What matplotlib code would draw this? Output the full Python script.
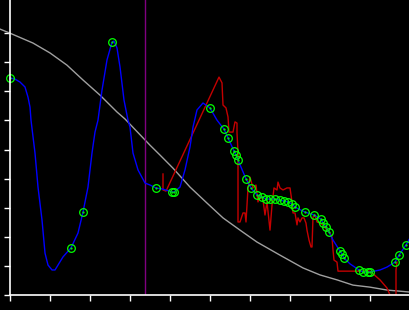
import numpy as np
import matplotlib
matplotlib.use("Agg")
import matplotlib.pyplot as plt

# --- data ---
# grey smooth envelope
env_x = [-0.25, 0.0, 0.575, 1.0, 1.425, 1.825, 2.25, 2.675, 2.875, 3.5, 3.75, 4.075,
         4.5, 4.925, 5.325, 5.75, 6.175, 6.75, 7.325, 7.75, 8.175, 8.575, 9.0, 9.425, 10.0]
env_y = [9.14, 9.00, 8.66, 8.32, 7.90, 7.39, 6.87, 6.29, 6.05, 5.15, 4.81, 4.36,
         3.71, 3.16, 2.65, 2.23, 1.82, 1.37, 0.93, 0.69, 0.52, 0.34, 0.27, 0.17, 0.10]

# blue fitted curve
fit_x = [0.0, 0.125, 0.25, 0.375, 0.45, 0.5, 0.525, 0.625, 0.7, 0.8, 0.875, 0.95, 1.05, 1.125,
         1.325, 1.525, 1.7, 1.825, 1.95, 2.05, 2.125, 2.2, 2.3, 2.425, 2.55, 2.6, 2.675, 2.75,
         2.85, 2.95, 3.0, 3.075, 3.2, 3.375, 3.5, 3.65, 3.825, 4.05, 4.1, 4.25, 4.375, 4.5,
         4.575, 4.675, 4.825, 5.0, 5.175, 5.35, 5.45, 5.6, 5.65, 5.7, 5.9, 6.025, 6.175, 6.3,
         6.4, 6.5, 6.625, 6.75, 6.85, 6.95, 7.05, 7.125, 7.375, 7.6, 7.775, 7.825, 7.9, 7.975,
         8.075, 8.25, 8.3, 8.35, 8.5, 8.725, 8.825, 8.95, 9.0, 9.25, 9.425, 9.625, 9.725, 9.9, 10.0]
fit_y = [7.46, 7.42, 7.32, 7.15, 6.80, 6.46, 6.01, 4.88, 3.71, 2.58, 1.44, 1.03, 0.86, 0.86,
         1.31, 1.62, 2.13, 2.85, 3.71, 4.88, 5.60, 6.01, 7.04, 8.08, 8.69, 8.73, 8.49, 7.84,
         6.70, 6.01, 5.77, 4.88, 4.30, 3.85, 3.78, 3.68, 3.64, 3.54, 3.54, 3.71, 4.30, 5.09,
         5.77, 6.36, 6.60, 6.43, 6.01, 5.70, 5.40, 4.95, 4.81, 4.64, 3.99, 3.68, 3.44, 3.37,
         3.30, 3.30, 3.30, 3.26, 3.23, 3.20, 3.13, 3.02, 2.85, 2.75, 2.61, 2.47, 2.34, 2.16,
         1.89, 1.51, 1.41, 1.27, 1.07, 0.86, 0.79, 0.79, 0.79, 0.86, 0.96, 1.13, 1.37, 1.72, 1.96]

# green sample points
pt_x = [0.0, 1.525, 1.825, 2.55, 3.65, 4.05, 4.1, 5.0, 5.35, 5.45, 5.6, 5.65, 5.7, 5.9, 6.025,
        6.175, 6.3, 6.4, 6.5, 6.625, 6.75, 6.85, 6.95, 7.05, 7.125, 7.375, 7.6, 7.775, 7.825,
        7.9, 7.975, 8.25, 8.3, 8.35, 8.725, 8.825, 8.95, 9.0, 9.625, 9.725, 9.9]
pt_y = [7.46, 1.62, 2.85, 8.69, 3.68, 3.54, 3.54, 6.43, 5.70, 5.40, 4.95, 4.81, 4.64, 3.99, 3.68,
        3.44, 3.37, 3.30, 3.30, 3.30, 3.26, 3.23, 3.20, 3.13, 3.02, 2.85, 2.75, 2.61, 2.47,
        2.34, 2.16, 1.51, 1.41, 1.27, 0.86, 0.79, 0.79, 0.79, 1.13, 1.37, 1.72]

# red raw signal
raw_x = [3.825, 3.825, 3.9, 5.225, 5.3, 5.325, 5.4, 5.45, 5.475, 5.575, 5.625, 5.675, 5.675,
         5.7, 5.7, 5.75, 5.825, 5.875, 5.9, 5.95, 6.0, 6.075, 6.15, 6.2, 6.25, 6.325, 6.375,
         6.425, 6.5, 6.55, 6.6, 6.675, 6.7, 6.75, 6.825, 6.925, 7.0, 7.05, 7.075, 7.125, 7.175,
         7.2, 7.25, 7.3, 7.35, 7.4, 7.425, 7.475, 7.525, 7.55, 7.575, 7.625, 7.675, 7.75, 7.825,
         7.925, 8.0, 8.05, 8.075, 8.1, 8.175, 8.2, 9.0, 9.25, 9.425, 9.5, 9.65, 9.65, 9.675]
raw_y = [4.16, 3.61, 3.57, 7.49, 7.29, 6.53, 6.43, 6.12, 5.60, 5.60, 5.95, 5.91, 5.57,
         4.91, 2.51, 2.51, 2.82, 2.82, 2.51, 3.68, 4.05, 3.68, 3.78, 3.20, 3.44, 3.26, 2.75,
         3.20, 2.23, 3.09, 3.68, 3.61, 3.88, 3.68, 3.61, 3.68, 3.68, 3.20, 2.82, 2.82, 2.41,
         2.65, 2.51, 2.65, 2.65, 2.47, 2.23, 1.89, 1.65, 1.65, 2.68, 2.75, 2.51, 2.47, 2.41,
         2.23, 2.13, 1.99, 1.55, 1.20, 1.13, 0.82, 0.82, 0.52, 0.24, 0.0, 0.0, 0.86, 1.13]

marker_x = 3.375  # purple vertical line

# --- figure ---
fig = plt.figure(figsize=(4.1, 3.1), dpi=100, facecolor="black")
ax = fig.add_axes([0, 15 / 310, 1, 295 / 310])
ax.set_facecolor("black")

ax.plot(env_x, env_y, color="#a0a0a0", lw=1.0)
ax.axvline(marker_x, color="#800080", lw=1.0)
ax.plot(raw_x, raw_y, color="#c40000", lw=1.0)
ax.plot(fit_x, fit_y, color="#0000ff", lw=1.0)
ax.plot(pt_x, pt_y, "o", ms=5.5, mfc="none", mec="#00ff00", mew=0.9)
ax.plot(pt_x, pt_y, ".", ms=1.2, color="#00ff00")

ax.set_xlim(-0.25, 10)
ax.set_ylim(0, 10.14)
ax.set_xticks(range(0, 11))
ax.set_yticks(range(0, 10))
ax.set_xticklabels([])
ax.set_yticklabels([])
ax.tick_params(colors="white", length=4, width=1, direction="out")

for s in ("top", "right"):
    ax.spines[s].set_visible(False)
ax.spines["left"].set_position(("axes", 10 / 410))
ax.spines["bottom"].set_bounds(0, 10)
for s in ("left", "bottom"):
    ax.spines[s].set_color("white")
    ax.spines[s].set_linewidth(1.2)

fig.savefig("out.png", dpi=100, facecolor="black")
